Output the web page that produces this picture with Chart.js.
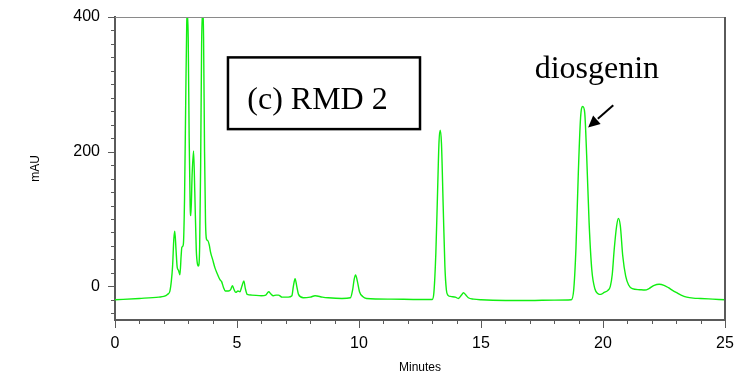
<!DOCTYPE html>
<html>
<head>
<meta charset="utf-8">
<title>RMD 2 chromatogram</title>
<script src="https://cdn.jsdelivr.net/npm/chart.js@4.4.1/dist/chart.umd.min.js"></script>
<style>
  html, body { margin: 0; padding: 0; background: #ffffff; }
  #wrap { width: 739px; height: 383px; }
</style>
</head>
<body>
<div id="wrap"><canvas id="c" width="739" height="383"></canvas></div>
<script>
// Retention time (min) and detector response (mAU) of the RMD 2 sample
const minutes = [
  0, 1, 1.8, 2.0, 2.15, 2.25, 2.31, 2.36, 2.41, 2.45, 2.5, 2.55, 2.6, 2.66, 2.71, 2.74, 2.8,
  2.85, 2.9, 2.94, 2.97, 3.0, 3.04, 3.08, 3.11, 3.16, 3.22, 3.27, 3.33, 3.38, 3.42, 3.47,
  3.51, 3.55, 3.59, 3.63, 3.67, 3.71, 3.75, 3.8, 3.86, 3.92, 4.0, 4.1, 4.2, 4.3, 4.37,
  4.45, 4.52, 4.65, 4.74, 4.81, 4.87, 4.95, 5.04, 5.12, 5.2, 5.28, 5.34, 5.42, 5.6, 6.0,
  6.18, 6.3, 6.38, 6.49, 6.6, 6.7, 6.85, 7.1, 7.25, 7.31, 7.38, 7.45, 7.52, 7.72, 8.0,
  8.2, 8.5, 8.74, 9.3, 9.65, 9.74, 9.8, 9.86, 9.93, 10.02, 10.15, 10.31, 11.3, 12.5,
  13.0, 13.07, 13.15, 13.22, 13.28, 13.33, 13.38, 13.45, 13.52, 13.58, 13.64, 13.75,
  13.95, 14.07, 14.2, 14.28, 14.38, 14.48, 14.7, 15.0, 16.0, 17.0, 18.0, 18.7, 18.8,
  18.89, 18.99, 19.08, 19.17, 19.25, 19.33, 19.43, 19.54, 19.67, 19.8, 19.9, 20.05,
  20.2, 20.3, 20.38, 20.46, 20.56, 20.63, 20.71, 20.81, 20.93, 21.05, 21.2, 21.5,
  21.72, 21.9, 22.1, 22.3, 22.5, 22.68, 22.85, 23.02, 23.2, 23.43, 23.7, 24.0, 24.5, 25.0
];
const mAU = [
  -20, -18, -16, -15, -12, -7, 8, 30, 70, 82, 55, 28, 24, 17, 45, 58, 62,
  130, 280, 390, 405, 370, 220, 120, 105, 165, 201, 140, 55, 33, 30, 60,
  180, 360, 410, 370, 200, 95, 70, 68, 62, 50, 40, 27, 18, 10, 7,
  -2, -7, -7, -5, 1, -4, -9, -7, -8, 0, 8, -3, -12, -13, -14,
  -13, -8, -11, -14, -13, -13, -16, -16, -14, 0, 11.5, 0, -12, -17, -16,
  -14, -16, -17, -18, -17, -5, 10, 17, 8, -8, -15, -18, -19, -19.5,
  -19.5, -9, 50, 140, 215, 232, 212, 120, 30, -5, -13, -15,
  -16, -18, -13, -9.5, -13, -17, -19, -20, -21, -21, -20.5, -20, -5,
  55, 170, 250, 267, 258, 195, 95, 25, -4, -11, -12, -9,
  -6, 0, 18, 55, 90, 101, 90, 45, 15, 2, -3.5, -5,
  -5.5, -3, 1.5, 3, 1.5, -2, -6, -9.5, -13, -16, -17.5, -18, -19, -20
];

// Axis ranges and labelled ticks
const xRange = [0, 25];
const yRange = [-50, 400];
const xLabelled = [0, 5, 10, 15, 20, 25];
const yLabelled = [0, 200, 400];

// Text annotations on the plot, placed in data units
const notes = {
  sample: { text: '(c) RMD 2', box: [4.63, 12.5, 340, 233.5], textAt: [8.3, 276] },
  peak: { text: 'diosgenin', at: [19.75, 322], arrowFrom: [20.42, 269], arrowTo: [19.39, 236] }
};

const AXIS_COLOR = '#5a5a5a';
const SANS = "'Liberation Sans', Arial, sans-serif";
const SERIF = "'Liberation Serif', 'Times New Roman', serif";

const points = minutes.map((t, i) => ({ x: t, y: mAU[i] }));

// Outside tick marks: long at labelled values, short elsewhere
const tickMarks = {
  id: 'tickMarks',
  afterDraw(chart) {
    const { ctx, chartArea: a, scales: { x, y } } = chart;
    ctx.save();
    ctx.strokeStyle = AXIS_COLOR;
    ctx.lineWidth = 1;
    for (let v = xRange[0]; v <= xRange[1]; v += 1) {
      const px = Math.round(x.getPixelForValue(v)) + 0.5;
      const len = xLabelled.includes(v) ? 8 : 4;
      ctx.beginPath(); ctx.moveTo(px, a.bottom); ctx.lineTo(px, a.bottom + len); ctx.stroke();
    }
    for (let v = -40; v <= yRange[1]; v += 20) {
      const py = Math.round(y.getPixelForValue(v)) + 0.5;
      const len = yLabelled.includes(v) ? 7 : 4;
      ctx.beginPath(); ctx.moveTo(a.left - len, py); ctx.lineTo(a.left, py); ctx.stroke();
    }
    // frame: thin top edge, heavier right edge
    ctx.strokeStyle = '#8a8a8a';
    ctx.beginPath(); ctx.moveTo(a.left, a.top + 0.5); ctx.lineTo(a.right, a.top + 0.5); ctx.stroke();
    ctx.strokeStyle = AXIS_COLOR;
    ctx.lineWidth = 2;
    ctx.beginPath(); ctx.moveTo(a.right, a.top); ctx.lineTo(a.right, a.bottom); ctx.stroke();
    ctx.restore();
  }
};

// Sample label box, peak name and arrow
const annotations = {
  id: 'annotations',
  afterDraw(chart) {
    const { ctx, scales: { x, y } } = chart;
    ctx.save();
    const s = notes.sample;
    const b = s.box;
    const x0 = x.getPixelForValue(b[0]), x1 = x.getPixelForValue(b[1]);
    const y0 = y.getPixelForValue(b[2]), y1 = y.getPixelForValue(b[3]);
    ctx.fillStyle = '#ffffff';
    ctx.fillRect(x0, y0, x1 - x0, y1 - y0);
    ctx.strokeStyle = '#000000';
    ctx.lineWidth = 2.5;
    ctx.strokeRect(x0, y0, x1 - x0, y1 - y0);
    ctx.fillStyle = '#000000';
    ctx.font = '32px ' + SERIF;
    ctx.textAlign = 'center';
    ctx.textBaseline = 'middle';
    ctx.fillText(s.text, x.getPixelForValue(s.textAt[0]), y.getPixelForValue(s.textAt[1]));

    const p = notes.peak;
    ctx.fillText(p.text, x.getPixelForValue(p.at[0]), y.getPixelForValue(p.at[1]));

    const fx = x.getPixelForValue(p.arrowFrom[0]), fy = y.getPixelForValue(p.arrowFrom[1]);
    const tx = x.getPixelForValue(p.arrowTo[0]), ty = y.getPixelForValue(p.arrowTo[1]);
    const ang = Math.atan2(ty - fy, tx - fx);
    const head = 13, spread = 0.45;
    const bx = tx - head * Math.cos(ang), by = ty - head * Math.sin(ang);
    ctx.lineWidth = 2;
    ctx.beginPath(); ctx.moveTo(fx, fy); ctx.lineTo(bx, by); ctx.stroke();
    ctx.beginPath();
    ctx.moveTo(tx, ty);
    ctx.lineTo(tx - head * Math.cos(ang - spread), ty - head * Math.sin(ang - spread));
    ctx.lineTo(tx - head * Math.cos(ang + spread), ty - head * Math.sin(ang + spread));
    ctx.closePath();
    ctx.fill();
    ctx.restore();
  }
};

new Chart(document.getElementById('c'), {
  type: 'line',
  data: {
    datasets: [{
      data: points,
      borderColor: '#11ee11',
      borderWidth: 1.4,
      pointRadius: 0,
      fill: false,
      cubicInterpolationMode: 'monotone',
      tension: 0.4
    }]
  },
  options: {
    responsive: false,
    animation: false,
    devicePixelRatio: 1,
    layout: { padding: { top: 17, right: 14, left: 0, bottom: 0 } },
    plugins: { legend: { display: false }, tooltip: { enabled: false } },
    scales: {
      x: {
        type: 'linear',
        min: xRange[0],
        max: xRange[1],
        grid: { drawOnChartArea: false, drawTicks: false },
        border: { display: true, color: AXIS_COLOR, width: 2 },
        ticks: {
          stepSize: 1,
          autoSkip: false,
          maxRotation: 0,
          padding: 14,
          color: '#000000',
          font: { family: SANS, size: 16 },
          callback: v => (xLabelled.includes(v) ? String(v) : '')
        },
        title: {
          display: true,
          text: 'Minutes',
          color: '#000000',
          font: { family: SANS, size: 12 },
          padding: { top: 0, bottom: 8 }
        },
        afterFit(scale) {
          scale.height = 63;
          scale.paddingLeft = 0;
          scale.paddingRight = 0;
        }
      },
      y: {
        min: yRange[0],
        max: yRange[1],
        grid: { drawOnChartArea: false, drawTicks: false },
        border: { display: true, color: AXIS_COLOR, width: 2 },
        ticks: {
          stepSize: 20,
          autoSkip: false,
          padding: 15,
          color: '#000000',
          font: { family: SANS, size: 16 },
          callback: v => (yLabelled.includes(v) ? String(v) : '')
        },
        title: {
          display: true,
          text: 'mAU',
          color: '#000000',
          font: { family: SANS, size: 12 },
          padding: { top: 28, bottom: 0 }
        },
        afterFit(scale) {
          scale.width = 115;
          scale.paddingTop = 0;
          scale.paddingBottom = 0;
        }
      }
    }
  },
  plugins: [tickMarks, annotations]
});
</script>
</body>
</html>
